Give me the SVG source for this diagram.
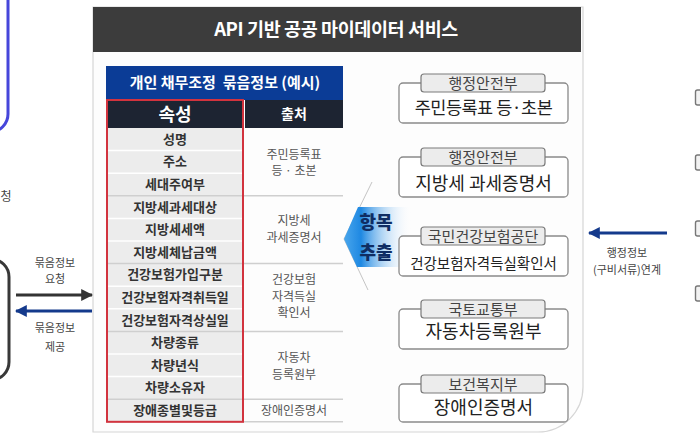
<svg xmlns="http://www.w3.org/2000/svg" width="700" height="440" viewBox="0 0 700 440">
<defs>
<style>
text{font-family:"Noto Sans CJK KR","Noto Sans",sans-serif;}
.lbl{font-size:11px;fill:#444;text-anchor:middle;}
.attr{font-size:13px;font-weight:bold;fill:#333;text-anchor:middle;}
.src{font-size:12px;fill:#555;text-anchor:middle;}
.cell{fill:#ececec;}
.sep{stroke:#ffffff;stroke-width:1.5;}
.gsep{stroke:#cfcfcf;stroke-width:1.5;}
.box{fill:#ffffff;stroke:#8a8a8a;stroke-width:1.3;}
.tab{fill:#ececec;stroke:#7a7a7a;stroke-width:1.2;}
.tabt{font-size:15px;fill:#444;text-anchor:middle;}
.main{font-size:18px;fill:#222;text-anchor:middle;}
.icon{fill:#f2f2f2;stroke:#777;stroke-width:1.4;}
</style>
<marker id="ahDark" viewBox="0 0 10 10" refX="9" refY="5" markerWidth="4" markerHeight="4" orient="auto"><path d="M0,0 L10,5 L0,10 Z" fill="#333"/></marker>
<marker id="ahBlue" viewBox="0 0 10 10" refX="9" refY="5" markerWidth="4" markerHeight="4" orient="auto"><path d="M0,0 L10,5 L0,10 Z" fill="#143a8c"/></marker>
<linearGradient id="chev" x1="344" y1="0" x2="412" y2="0" gradientUnits="userSpaceOnUse">
<stop offset="0" stop-color="#4aa6ec"/>
<stop offset="0.25" stop-color="#1e88e2"/>
<stop offset="1" stop-color="#ffffff" stop-opacity="0"/>
</linearGradient>
</defs>
<rect x="0" y="0" width="700" height="440" fill="#ffffff"/>

<!-- left partial nodes -->
<g id="left-top">
<rect x="-100" y="-20" width="108" height="152" rx="18" fill="none" stroke="#4646da" stroke-width="3"/>
<text x="6" y="201" style="font-size:12px;fill:#444;text-anchor:middle">청</text>
</g>
<g id="left-bottom">
<rect x="-100" y="259" width="109" height="121" rx="18" fill="none" stroke="#383838" stroke-width="3"/>
</g>

<!-- main panel -->
<g id="panel">
<path d="M93,7 H583 V387 A45,45 0 0 1 538,432 H93 Z" fill="#fdfdfd" stroke="#d6d6d6" stroke-width="1.2"/>
<rect x="93" y="7" width="488" height="45" fill="#3c3c3c"/>
<text x="336" y="36" style="font-size:18.5px;font-weight:bold;fill:#fff;text-anchor:middle;letter-spacing:-0.4px">API 기반 공공 마이데이터 서비스</text>
</g>

<!-- table -->
<g id="table">
<rect x="106" y="66" width="237" height="34" fill="#0b3c96"/>
<text x="225" y="88" xml:space="preserve" style="font-size:15px;font-weight:bold;fill:#fff;text-anchor:middle;white-space:pre">개인 채무조정  묶음정보 (예시)</text>
<rect x="107" y="100" width="136" height="28" fill="#1d2432"/>
<rect x="245" y="100" width="98" height="28" fill="#1d2432"/>
<text x="175" y="121" style="font-size:18px;font-weight:bold;fill:#fff;text-anchor:middle">속성</text>
<text x="294" y="119" style="font-size:14px;font-weight:bold;fill:#fff;text-anchor:middle">출처</text>
<rect class="cell" x="107" y="128" width="136" height="293.8"/>
<g>
<line class="sep" x1="107" y1="150.6" x2="243" y2="150.6"/>
<line class="sep" x1="107" y1="173.2" x2="243" y2="173.2"/>
<line class="sep" x1="107" y1="218.4" x2="243" y2="218.4"/>
<line class="sep" x1="107" y1="241" x2="243" y2="241"/>
<line class="sep" x1="107" y1="286.2" x2="243" y2="286.2"/>
<line class="sep" x1="107" y1="308.8" x2="243" y2="308.8"/>
<line class="sep" x1="107" y1="354" x2="243" y2="354"/>
<line class="sep" x1="107" y1="376.6" x2="243" y2="376.6"/>
</g>
<g>
<line class="gsep" x1="107" y1="195.8" x2="343" y2="195.8"/>
<line class="gsep" x1="107" y1="263.6" x2="343" y2="263.6"/>
<line class="gsep" x1="107" y1="331.4" x2="343" y2="331.4"/>
<line class="gsep" x1="107" y1="399.2" x2="343" y2="399.2"/>
<line class="gsep" x1="107" y1="421.8" x2="343" y2="421.8"/>
</g>
<text class="attr" x="175" y="143.8">성명</text>
<text class="attr" x="175" y="166.4">주소</text>
<text class="attr" x="175" y="189">세대주여부</text>
<text class="attr" x="175" y="211.6">지방세과세대상</text>
<text class="attr" x="175" y="234.2">지방세세액</text>
<text class="attr" x="175" y="256.8">지방세체납금액</text>
<text class="attr" x="175" y="279.4">건강보험가입구분</text>
<text class="attr" x="175" y="302">건강보험자격취득일</text>
<text class="attr" x="175" y="324.6">건강보험자격상실일</text>
<text class="attr" x="175" y="347.2">차량종류</text>
<text class="attr" x="175" y="369.8">차량년식</text>
<text class="attr" x="175" y="392.4">차량소유자</text>
<text class="attr" x="175" y="415">장애종별및등급</text>
<text class="src" x="294" y="158.5">주민등록표</text>
<text class="src" x="294" y="175">등 · 초본</text>
<text class="src" x="294" y="225">지방세</text>
<text class="src" x="294" y="241.5">과세증명서</text>
<text class="src" x="294" y="284">건강보험</text>
<text class="src" x="294" y="300.5">자격득실</text>
<text class="src" x="294" y="317">확인서</text>
<text class="src" x="294" y="362">자동차</text>
<text class="src" x="294" y="378.5">등록원부</text>
<text class="src" x="294" y="415">장애인증명서</text>
<rect x="107" y="100" width="136" height="321.8" fill="none" stroke="#d2333e" stroke-width="2"/>
</g>

<!-- extraction chevron -->
<g id="extract">
<polyline points="372,182 344,239 368,290" fill="none" stroke="#c4c4c4" stroke-width="1"/>
<polygon points="358,207 412,207 412,267 357,267 344,239" fill="url(#chev)"/>
<text x="376" y="229" style="font-size:18px;font-weight:900;fill:#0f2d63;text-anchor:middle">항목</text>
<text x="376" y="259" style="font-size:18px;font-weight:900;fill:#0f2d63;text-anchor:middle">추출</text>
</g>

<!-- source boxes -->
<g id="src1">
<rect class="box" x="399" y="83" width="169" height="40" rx="4"/>
<rect class="tab" x="421" y="74" width="124" height="18" rx="3"/>
<text class="tabt" x="483" y="88.5">행정안전부</text>
<text class="main" x="483.5" y="113.5" style="font-size:17.5px;letter-spacing:-0.5px">주민등록표 등·초본</text>
</g>
<g id="src2">
<rect class="box" x="399" y="157" width="169" height="40" rx="4"/>
<rect class="tab" x="421" y="148" width="124" height="18" rx="3"/>
<text class="tabt" x="483" y="162.5">행정안전부</text>
<text class="main" x="483.5" y="190">지방세 과세증명서</text>
</g>
<g id="src3">
<rect class="box" x="399" y="236" width="169" height="40" rx="4"/>
<rect class="tab" x="421" y="227" width="124" height="18" rx="3"/>
<text class="tabt" x="483" y="241.5">국민건강보험공단</text>
<text class="main" x="483.5" y="269" style="font-size:14.5px">건강보험자격득실확인서</text>
</g>
<g id="src4">
<rect class="box" x="399" y="309" width="169" height="40" rx="4"/>
<rect class="tab" x="421" y="300" width="124" height="18" rx="3"/>
<text class="tabt" x="483" y="314.5">국토교통부</text>
<text class="main" x="483.5" y="337.5">자동차등록원부</text>
</g>
<g id="src5">
<rect class="box" x="399" y="384" width="169" height="38" rx="4"/>
<rect class="tab" x="421" y="375" width="124" height="18" rx="3"/>
<text class="tabt" x="483" y="389.5">보건복지부</text>
<text class="main" x="483.5" y="413.5">장애인증명서</text>
</g>

<!-- right edge partial icons -->
<g id="right-icons">
<rect class="icon" x="695.5" y="90" width="10" height="15" rx="2"/>
<rect class="icon" x="695.5" y="155" width="10" height="15" rx="2"/>
<rect class="icon" x="695.5" y="221" width="10" height="15" rx="2"/>
<rect class="icon" x="695.5" y="286" width="10" height="15" rx="2"/>
</g>

<!-- connectors -->
<g id="connectors">
<line x1="16" y1="295" x2="92" y2="295" stroke="#333" stroke-width="3" marker-end="url(#ahDark)"/>
<line x1="92" y1="311" x2="16" y2="311" stroke="#143a8c" stroke-width="3" marker-end="url(#ahBlue)"/>
<line x1="667" y1="233" x2="589" y2="233" stroke="#143a8c" stroke-width="3" marker-end="url(#ahBlue)"/>
<text class="lbl" x="55" y="267">묶음정보</text>
<text class="lbl" x="55" y="283">요청</text>
<text class="lbl" x="55" y="332">묶음정보</text>
<text class="lbl" x="55" y="351">제공</text>
<text class="lbl" x="627" y="257">행정정보</text>
<text class="lbl" x="627" y="274">(구비서류)연계</text>
</g>
</svg>
